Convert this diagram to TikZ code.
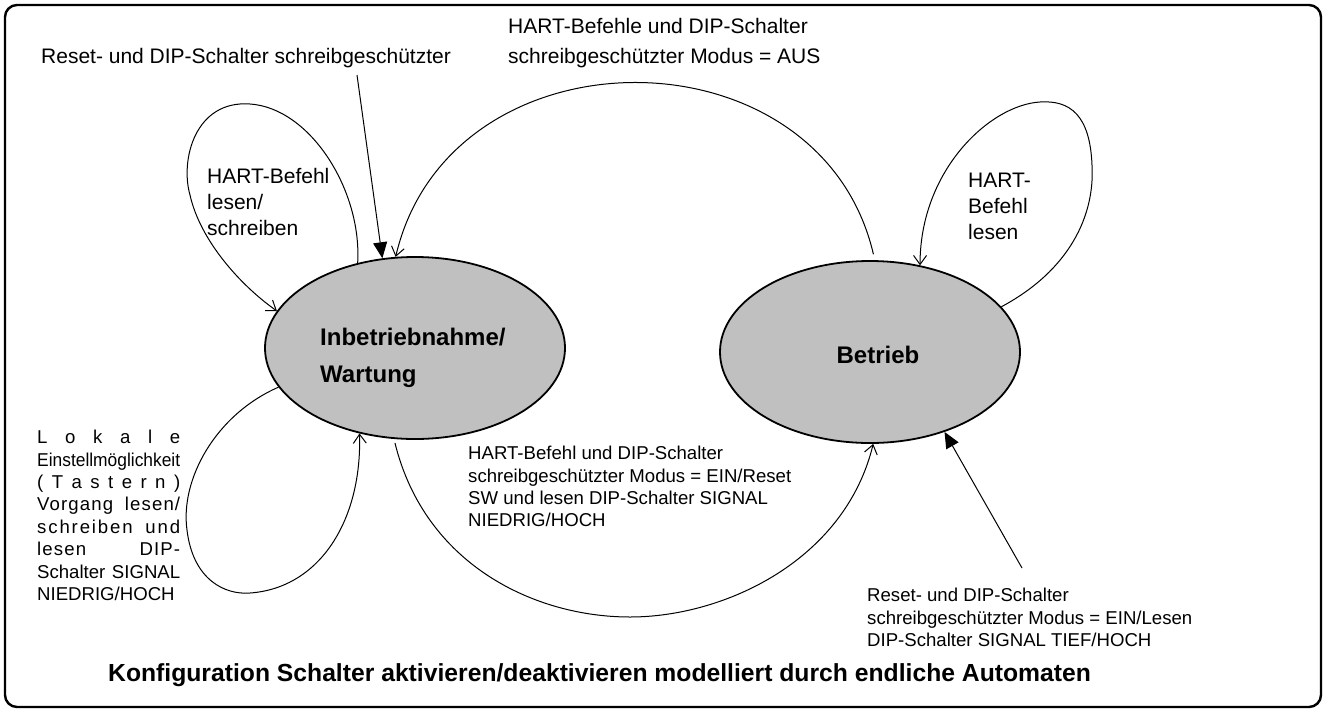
\documentclass[tikz,border=0pt]{standalone}
\usepackage{fontspec}
\setmainfont{Liberation Sans}
\usepackage{graphicx}
\usetikzlibrary{shapes.geometric,arrows.meta}
\begin{document}
\begin{tikzpicture}[x=1pt,y=-1pt,
  frame/.style={line width=2.4pt, rounded corners=12pt},
  state/.style={ellipse, draw, line width=1.8pt, fill=stategray, minimum width=300pt, minimum height=182pt, inner sep=0pt},
  statetxt/.style={inner sep=0pt, align=left, font=\bfseries\fontsize{24}{37}\selectfont},
  lblA/.style={inner sep=0pt, align=left, font=\fontsize{21}{26}\selectfont},
  lblB/.style={inner sep=0pt, align=left, font=\fontsize{18.6}{22.4}\selectfont},
  ttl/.style={inner sep=0pt, font=\bfseries\fontsize{24.7}{30}\selectfont},
  conn/.style={line width=1pt},
  openarrow/.style={-{Straight Barb[length=9pt,width=13pt]}},
  fullarrow/.style={-{Triangle[length=16pt,width=14pt]}}
]
\definecolor{stategray}{HTML}{C0C0C0}
\useasboundingbox (0,0) rectangle (1326,713);
\draw[frame] (5,5) rectangle (1321,707);

% states
\node[state] (L) at (415,348) {};
\node[state] (B) at (870,352) {};
\node[statetxt, anchor=north west] (Lt) at (320,327.7) {Inbetriebnahme/\\Wartung};
\node[statetxt, anchor=base] (Bt) at (878,363) {Betrieb};

% free ends
\coordinate (r1) at (357,75);
\coordinate (r2) at (1022,568);

% connectors
\draw[conn, fullarrow] (r1) -- (L.110);
\draw[conn, fullarrow] (r2) -- (B.313);
\draw[conn, openarrow, shorten <=6pt] (B.87) .. controls (820,25) and (450,25) .. (L.102);
\draw[conn, openarrow] (L.124) .. controls (362,190) and (310,108) .. (250,104)
   .. controls (195,100) and (180,160) .. (190,195)
   .. controls (200,240) and (240,285) .. (L.165);
\draw[conn, openarrow] (B.19) .. controls (1070,270) and (1095,215) .. (1092,165)
   .. controls (1090,115) and (1070,100) .. (1040,102)
   .. controls (990,105) and (920,170) .. (B.60);
\draw[conn, openarrow] (L.196) .. controls (215,415) and (180,480) .. (187,530)
   .. controls (193,580) and (225,595) .. (250,593)
   .. controls (320,588) and (362,520) .. (L.237);
\draw[conn, openarrow, shorten <=4pt] (L.257) .. controls (425,565) and (535,617) .. (630,617)
   .. controls (725,617) and (845,560) .. (B.272);

% labels
\node[lblA, anchor=base west] (t1) at (41,63) {Reset- und DIP-Schalter schreibgeschützter};
\node[lblA, anchor=north west, font=\fontsize{21}{30}\selectfont] (t2) at (508,18) {HART-Befehle und DIP-Schalter\\schreibgeschützter Modus = AUS};
\node[lblA, anchor=north west] (t3) at (207,168) {HART-Befehl\\lesen/\\schreiben};
\node[lblA, anchor=north west] (t4) at (968,173) {HART-\\Befehl\\lesen};
\node[lblB, anchor=north west] (t5) at (468,446) {HART-Befehl und DIP-Schalter\\schreibgeschützter Modus = EIN/Reset\\SW und lesen DIP-Schalter SIGNAL\\NIEDRIG/HOCH};
\node[lblB, anchor=north west] (t6) at (867,588) {Reset- und DIP-Schalter\\schreibgeschützter Modus = EIN/Lesen\\DIP-Schalter SIGNAL TIEF/HOCH};
\node[lblB, anchor=north west] (t7) at (37,430) {%
\makebox[143pt][s]{L\hfill o\hfill k\hfill a\hfill l\hfill e}\\
\resizebox{143pt}{\height}{Einstellmöglichkeit}\\
\makebox[143pt][s]{(\hfill T\hfill a\hfill s\hfill t\hfill e\hfill r\hfill n\hfill )}\\
\makebox[143pt][s]{\addfontfeature{LetterSpace=6}Vorgang lesen/}\\
\makebox[143pt][s]{\addfontfeature{LetterSpace=10}schreiben und}\\
\makebox[143pt][s]{\addfontfeature{LetterSpace=6}lesen DIP-}\\
\makebox[143pt][s]{Schalter SIGNAL}\\
NIEDRIG/HOCH};
\node[ttl, anchor=base west] (title) at (108,681) {Konfiguration Schalter aktivieren/deaktivieren modelliert durch endliche Automaten};
\end{tikzpicture}
\end{document}
